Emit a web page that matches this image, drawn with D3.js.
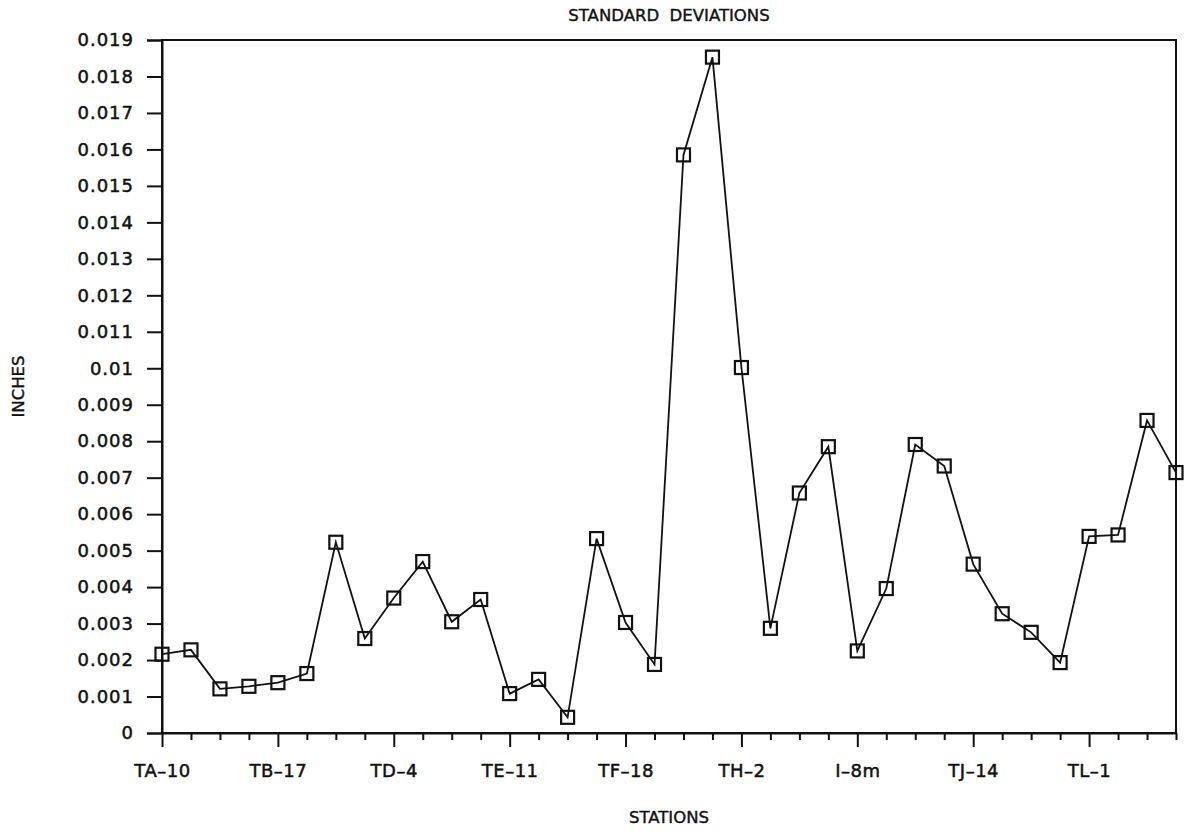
<!DOCTYPE html>
<html>
<head>
<meta charset="utf-8">
<script src="https://cdn.jsdelivr.net/npm/d3@7/dist/d3.min.js"></script>
<style>
  html, body { margin: 0; padding: 0; background: #fff; }
  svg { display: block; }
  text { font-family: "DejaVu Sans", "Liberation Sans", Arial, sans-serif; fill: #111; }
</style>
</head>
<body>
<svg id="chart" width="1187" height="831"></svg>
<script>
// Standard deviation per station, in inches (36 stations in survey order)
const stdDev = [
  0.00216, 0.00228, 0.00121, 0.00128, 0.00138, 0.00163, 0.00523, 0.00259,
  0.00370, 0.00470, 0.00305, 0.00366, 0.00108, 0.00147, 0.00043, 0.00533,
  0.00303, 0.00188, 0.01585, 0.01853, 0.01002, 0.00287, 0.00658, 0.00785,
  0.00225, 0.00396, 0.00791, 0.00732, 0.00463, 0.00327, 0.00276, 0.00193,
  0.00539, 0.00543, 0.00857, 0.00714
];

// Stations named on the axis (every fourth station)
const labelledStations = ["TA–10", "TB–17", "TD–4", "TE–11", "TF–18", "TH–2", "I–8m", "TJ–14", "TL–1"];
const labelEvery = 4;

// Y axis ticks, 0 to 0.019 inches
const yTicks = d3.range(0, 20).map(i => i / 1000);

const chartTitle = "STANDARD  DEVIATIONS";
const xTitle = "STATIONS";
const yTitle = "INCHES";

const margin = { left: 162, right: 11, top: 40, bottom: 98 };
const W = 1187, H = 831;
const svg = d3.select("#chart");

const x = d3.scaleLinear()
  .domain([0, stdDev.length - 1])
  .range([margin.left, W - margin.right]);
const y = d3.scaleLinear()
  .domain([0, 0.019])
  .range([H - margin.bottom, margin.top]);

const fmt = v => v === 0 ? "0" : String(+v.toFixed(3));
const ink = "#111";

// Frame around the plot
svg.append("rect")
  .attr("x", x(0)).attr("y", y(0.019))
  .attr("width", x(stdDev.length - 1) - x(0))
  .attr("height", y(0) - y(0.019))
  .attr("fill", "none").attr("stroke", ink).attr("stroke-width", 2);

// Y axis
const yAxis = svg.append("g")
  .attr("transform", `translate(${x(0)},0)`)
  .call(d3.axisLeft(y).tickValues(yTicks).tickFormat(fmt).tickSize(15).tickPadding(13));
yAxis.select(".domain").attr("stroke", ink).attr("stroke-width", 2);
yAxis.selectAll(".tick line").attr("stroke", ink).attr("stroke-width", 2);
yAxis.selectAll(".tick text")
  .attr("font-size", 18).attr("letter-spacing", 1)
  .attr("stroke", ink).attr("stroke-width", 0.5)
  .style("font-family", "DejaVu Sans, sans-serif");

// X axis: minor tick at every station, long tick and label every fourth
const xAxis = svg.append("g")
  .attr("transform", `translate(0,${y(0)})`)
  .call(d3.axisBottom(x)
    .tickValues(d3.range(0, stdDev.length))
    .tickSize(0)
    .tickFormat(""));
xAxis.select(".domain").attr("stroke", ink).attr("stroke-width", 2);
xAxis.selectAll(".tick line")
  .attr("y2", d => d % labelEvery === 0 ? 14 : 7)
  .attr("stroke", ink).attr("stroke-width", 2);
xAxis.selectAll(".tick")
  .filter(d => d % labelEvery === 0 && labelledStations[d / labelEvery])
  .append("text")
  .attr("y", 44)
  .attr("text-anchor", "middle")
  .attr("font-size", 18)
  .attr("letter-spacing", 0.5)
  .attr("stroke", ink).attr("stroke-width", 0.5)
  .style("fill", ink)
  .text(d => labelledStations[d / labelEvery]);

// Data line
const line = d3.line()
  .x((d, i) => x(i))
  .y(d => y(d));
svg.append("path")
  .datum(stdDev)
  .attr("d", line)
  .attr("fill", "none")
  .attr("stroke", ink)
  .attr("stroke-width", 1.8);

// Square markers
const s = 13;
svg.append("g").selectAll("rect")
  .data(stdDev)
  .join("rect")
  .attr("x", (d, i) => x(i) - s / 2)
  .attr("y", d => y(d) - s / 2)
  .attr("width", s).attr("height", s)
  .attr("fill", "none")
  .attr("stroke", ink)
  .attr("stroke-width", 2.2);

// Titles
const midX = (x(0) + x(stdDev.length - 1)) / 2;
svg.append("text")
  .attr("x", midX)
  .attr("y", 21)
  .attr("text-anchor", "middle")
  .attr("font-size", 16.5)
  .attr("stroke", ink).attr("stroke-width", 0.4)
  .style("white-space", "pre")
  .text(chartTitle);

svg.append("text")
  .attr("x", midX)
  .attr("y", 823)
  .attr("text-anchor", "middle")
  .attr("font-size", 16.5)
  .attr("stroke", ink).attr("stroke-width", 0.4)
  .text(xTitle);

svg.append("text")
  .attr("transform", `translate(24,${(y(0) + y(0.019)) / 2}) rotate(-90)`)
  .attr("text-anchor", "middle")
  .attr("font-size", 16.5)
  .attr("stroke", ink).attr("stroke-width", 0.4)
  .text(yTitle);
</script>
</body>
</html>
